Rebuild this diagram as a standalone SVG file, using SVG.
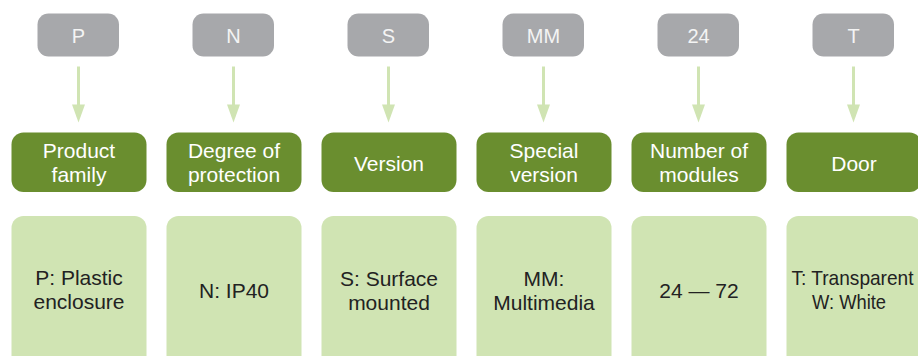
<svg xmlns="http://www.w3.org/2000/svg" width="918" height="356" viewBox="0 0 918 356">
<style>
.code{fill:#a7a8ab}
.head{fill:#6a8e2f}
.desc{fill:#d0e4b3}
text{font-family:"Liberation Sans",Arial,sans-serif;text-anchor:middle}
.ct{fill:#f4f4f4;font-size:20px}
.ht{fill:#ffffff;font-size:21px}
.dt{fill:#222222;font-size:21px}
.conn line{stroke:#d0e4b3;stroke-width:3}
.conn polygon{fill:#d0e4b3}
</style>
<rect width="918" height="356" fill="#ffffff"/>
<g id="connectors" class="conn">
<line x1="78.5" y1="66.5" x2="78.5" y2="106"/><polygon points="72,104.5 85,104.5 78.5,122.5"/>
<line x1="233.5" y1="66.5" x2="233.5" y2="106"/><polygon points="227,104.5 240,104.5 233.5,122.5"/>
<line x1="388.5" y1="66.5" x2="388.5" y2="106"/><polygon points="382,104.5 395,104.5 388.5,122.5"/>
<line x1="543.5" y1="66.5" x2="543.5" y2="106"/><polygon points="537,104.5 550,104.5 543.5,122.5"/>
<line x1="698.5" y1="66.5" x2="698.5" y2="106"/><polygon points="692,104.5 705,104.5 698.5,122.5"/>
<line x1="853.5" y1="66.5" x2="853.5" y2="106"/><polygon points="847,104.5 860,104.5 853.5,122.5"/>
</g>
<g id="col1">
<g id="code-P"><rect class="code" x="37.5" y="13.5" width="81.5" height="43" rx="11"/><text class="ct" x="78.5" y="42.5">P</text></g>
<g id="head-product-family"><rect class="head" x="11.5" y="132.5" width="135" height="59.5" rx="12"/><text class="ht" x="79" y="157.5">Product</text><text class="ht" x="79" y="181.5">family</text></g>
<g id="desc-plastic"><rect class="desc" x="11.5" y="216" width="135" height="160" rx="12"/><text class="dt" x="79" y="284.5">P: Plastic</text><text class="dt" x="79" y="309">enclosure</text></g>
</g>
<g id="col2">
<g id="code-N"><rect class="code" x="192.5" y="13.5" width="81.5" height="43" rx="11"/><text class="ct" x="233.5" y="42.5">N</text></g>
<g id="head-protection"><rect class="head" x="166.5" y="132.5" width="135" height="59.5" rx="12"/><text class="ht" x="234" y="157.5">Degree of</text><text class="ht" x="234" y="181.5">protection</text></g>
<g id="desc-ip40"><rect class="desc" x="166.5" y="216" width="135" height="160" rx="12"/><text class="dt" x="234" y="298">N: IP40</text></g>
</g>
<g id="col3">
<g id="code-S"><rect class="code" x="347.5" y="13.5" width="81.5" height="43" rx="11"/><text class="ct" x="388.5" y="42.5">S</text></g>
<g id="head-version"><rect class="head" x="321.5" y="132.5" width="135" height="59.5" rx="12"/><text class="ht" x="389" y="170.5">Version</text></g>
<g id="desc-surface"><rect class="desc" x="321.5" y="216" width="135" height="160" rx="12"/><text class="dt" x="389" y="285.5">S: Surface</text><text class="dt" x="389" y="310">mounted</text></g>
</g>
<g id="col4">
<g id="code-MM"><rect class="code" x="502.5" y="13.5" width="81.5" height="43" rx="11"/><text class="ct" x="543.5" y="42.5">MM</text></g>
<g id="head-special"><rect class="head" x="476.5" y="132.5" width="135" height="59.5" rx="12"/><text class="ht" x="544" y="157.5">Special</text><text class="ht" x="544" y="181.5">version</text></g>
<g id="desc-multimedia"><rect class="desc" x="476.5" y="216" width="135" height="160" rx="12"/><text class="dt" x="544" y="285.5">MM:</text><text class="dt" x="544" y="310">Multimedia</text></g>
</g>
<g id="col5">
<g id="code-24"><rect class="code" x="657.5" y="13.5" width="81.5" height="43" rx="11"/><text class="ct" x="698.5" y="42.5">24</text></g>
<g id="head-modules"><rect class="head" x="631.5" y="132.5" width="135" height="59.5" rx="12"/><text class="ht" x="699" y="157.5">Number of</text><text class="ht" x="699" y="181.5">modules</text></g>
<g id="desc-range"><rect class="desc" x="631.5" y="216" width="135" height="160" rx="12"/><text class="dt" x="699" y="298">24 — 72</text></g>
</g>
<g id="col6">
<g id="code-T"><rect class="code" x="812.5" y="13.5" width="81.5" height="43" rx="11"/><text class="ct" x="853.5" y="42.5">T</text></g>
<g id="head-door"><rect class="head" x="786.5" y="132.5" width="135" height="59.5" rx="12"/><text class="ht" x="854" y="170.5">Door</text></g>
<g id="desc-door"><rect class="desc" x="786.5" y="216" width="135" height="160" rx="12"/><text class="dt" x="852.5" y="284.5" textLength="122" lengthAdjust="spacingAndGlyphs">T: Transparent</text><text class="dt" x="849" y="309" textLength="74" lengthAdjust="spacingAndGlyphs">W: White</text></g>
</g>
</svg>
